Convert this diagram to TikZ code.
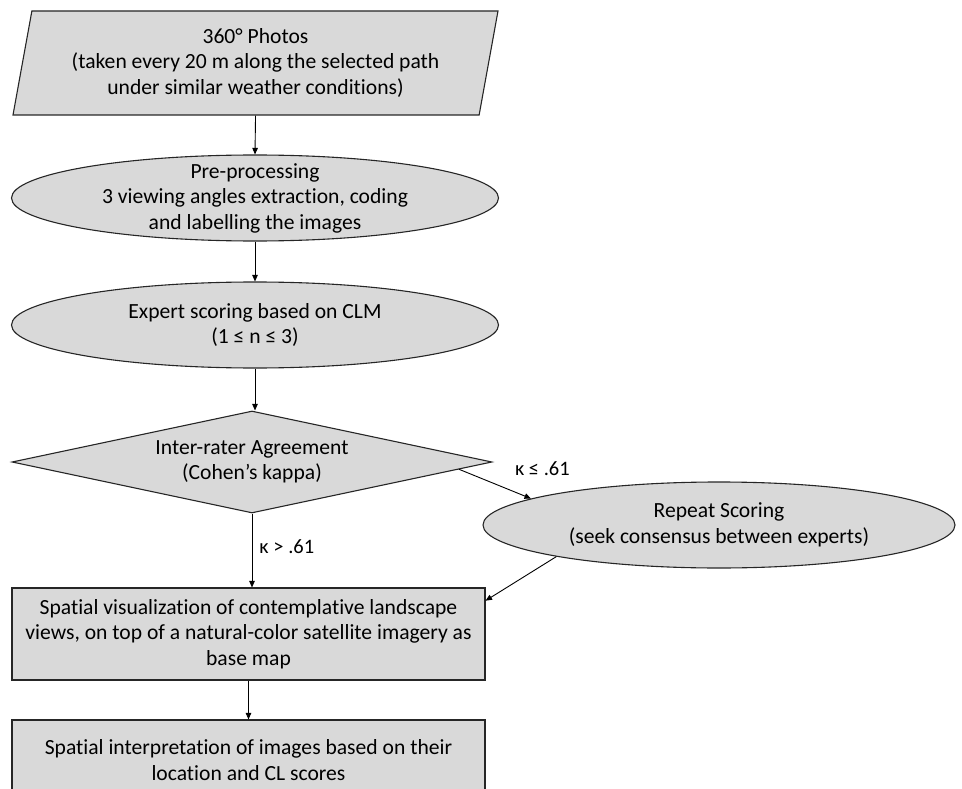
\documentclass[tikz,border=0pt]{standalone}
\usepackage{fontspec}
\setmainfont{Carlito}[Ligatures=NoCommon]
\usetikzlibrary{shapes.geometric,arrows.meta,calc}
\definecolor{boxgray}{HTML}{D9D9D9}
\definecolor{edgegray}{HTML}{262626}
\begin{document}
\begin{tikzpicture}[x=1pt,y=-1pt,
  every node/.style={font=\fontsize{21.6}{25.5}\selectfont},
  shapebox/.style={draw=edgegray, line width=1.1pt, fill=boxgray, align=center},
  ellbox/.style={shapebox, ellipse, inner sep=0pt},
  rectbox/.style={shapebox, rectangle, minimum width=473pt, inner xsep=1pt},
  arr/.style={-{Triangle[length=6.5pt,width=5.5pt]}, line width=0.9pt, draw=black},
  lbl/.style={font=\fontsize{20.5}{24}\selectfont, inner sep=2pt}
]
\useasboundingbox (0,0) rectangle (962,789);
\clip (0,0) rectangle (962,789);

\node[shapebox, trapezium, trapezium left angle=75.5, trapezium right angle=104.5,
      trapezium stretches body, minimum width=485pt, minimum height=104pt, inner sep=2pt]
  (photos) at (255.5,63) {360° Photos\\(taken every 20 m along the selected path\\under similar weather conditions)};

\node[ellbox, minimum width=487pt, minimum height=86pt, inner ysep=-12pt]
  (pre) at (255,198) {Pre-processing\\3 viewing angles extraction, coding\\and labelling the images};

\node[ellbox, minimum width=487pt, minimum height=86pt]
  (expert) at (255,325) {Expert scoring based on CLM\\(1 ≤ n ≤ 3)};

\node[shapebox, diamond, aspect=4.7, minimum width=480pt, minimum height=102pt, inner sep=0pt]
  (agree) at (252,462) {Inter-rater Agreement\\(Cohen’s kappa)};

\node[ellbox, minimum width=472pt, minimum height=86pt]
  (repeat) at (719,525) {Repeat Scoring\\(seek consensus between experts)};

\node[rectbox, minimum height=92pt]
  (vis) at (248.5,634) {Spatial visualization of contemplative landscape\\views, on top of a natural-color satellite imagery as\\base map};

\node[rectbox, minimum height=80pt, text depth=0pt]
  (final) at (248.5,760) {Spatial interpretation of images based on their\\location and CL scores};

\draw[arr] (photos.south) -- (pre.north);
\draw[arr] (pre.south) -- (expert.north);
\draw[arr] (expert.south) -- (expert.south |- agree.north);
\draw[arr] (agree.south) -- node[lbl, pos=0.45, right=5pt] {κ > .61} (agree.south |- vis.north);
\draw[arr] (agree.-2.6) -- node[lbl, pos=0.8, anchor=south west, xshift=-4pt, yshift=15pt] {κ ≤ .61} (repeat.172);
\draw[arr] (repeat.191) -- (vis.8.9);
\draw[arr] (vis.south) -- (final.north);
\end{tikzpicture}
\end{document}
